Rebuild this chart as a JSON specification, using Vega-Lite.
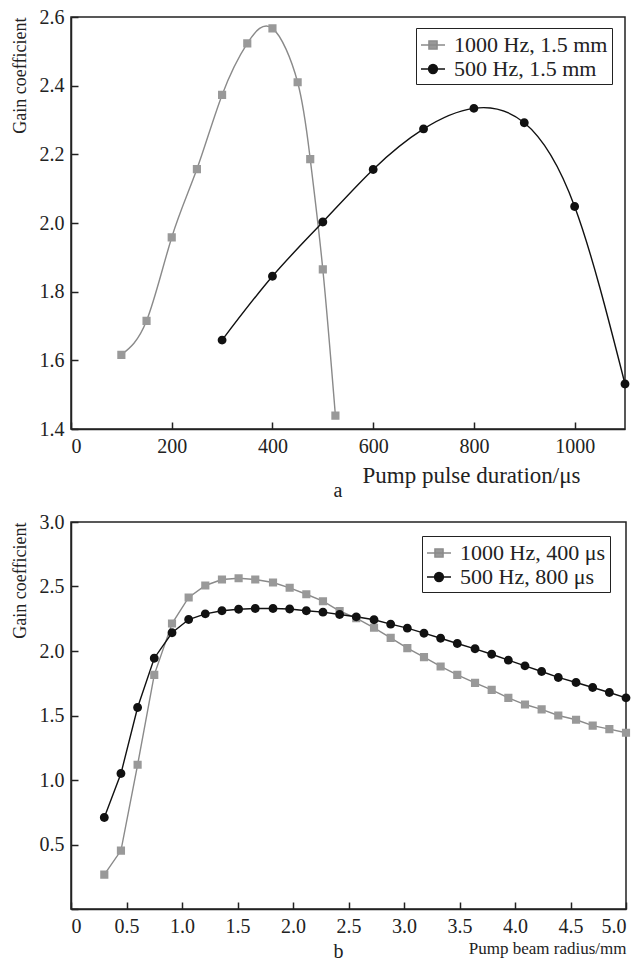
{
  "$schema": "https://vega.github.io/schema/vega-lite/v6.json",
  "background": "white",
  "padding": {"left": 10, "top": 6, "right": 0, "bottom": 0},
  "bounds": "flush",
  "spacing": 93,
  "resolve": {"scale": {"fill": "independent", "stroke": "independent", "shape": "independent"}, "legend": {"fill": "independent", "stroke": "independent", "shape": "independent"}},
  "config": {
    "font": "Liberation Serif",
    "view": {"stroke": "#222", "strokeWidth": 1.5},
    "axis": {
      "domainColor": "#222", "domainWidth": 1.5, "tickColor": "#222", "tickWidth": 1.5, "tickSize": -7,
      "labelFont": "Liberation Serif", "labelFontSize": 20, "labelColor": "#222", "labelPadding": 14,
      "titleFont": "Liberation Serif", "titleFontSize": 18, "titleFontWeight": "normal", "titleColor": "#222",
      "grid": false
    },
    "legend": {
      "labelFont": "Liberation Serif", "labelFontSize": 22, "labelColor": "#222",
      "strokeColor": "#222", "fillColor": "white", "padding": 4, "rowPadding": 0,
      "symbolSize": 576, "symbolStrokeWidth": 1.4, "labelOffset": 8
    },
    "title": {"font": "Liberation Serif", "fontSize": 20, "fontWeight": "normal", "color": "#222"}
  },
  "datasets": {
    "a": [
      {"series": "1000 Hz, 1.5 mm", "x": 100, "y": 1.616},
      {"series": "1000 Hz, 1.5 mm", "x": 150, "y": 1.715},
      {"series": "1000 Hz, 1.5 mm", "x": 200, "y": 1.958},
      {"series": "1000 Hz, 1.5 mm", "x": 250, "y": 2.157},
      {"series": "1000 Hz, 1.5 mm", "x": 300, "y": 2.373},
      {"series": "1000 Hz, 1.5 mm", "x": 350, "y": 2.523},
      {"series": "1000 Hz, 1.5 mm", "x": 400, "y": 2.567},
      {"series": "1000 Hz, 1.5 mm", "x": 450, "y": 2.41},
      {"series": "1000 Hz, 1.5 mm", "x": 475, "y": 2.186},
      {"series": "1000 Hz, 1.5 mm", "x": 500, "y": 1.865},
      {"series": "1000 Hz, 1.5 mm", "x": 525, "y": 1.439},
      {"series": "500 Hz, 1.5 mm", "x": 300, "y": 1.659},
      {"series": "500 Hz, 1.5 mm", "x": 400, "y": 1.845},
      {"series": "500 Hz, 1.5 mm", "x": 500, "y": 2.003},
      {"series": "500 Hz, 1.5 mm", "x": 600, "y": 2.156},
      {"series": "500 Hz, 1.5 mm", "x": 700, "y": 2.274},
      {"series": "500 Hz, 1.5 mm", "x": 800, "y": 2.334},
      {"series": "500 Hz, 1.5 mm", "x": 900, "y": 2.292},
      {"series": "500 Hz, 1.5 mm", "x": 1000, "y": 2.048},
      {"series": "500 Hz, 1.5 mm", "x": 1100, "y": 1.531}
    ],
    "b": [
      {"series": "1000 Hz, 400 μs", "x": 0.3, "y": 0.267},
      {"series": "1000 Hz, 400 μs", "x": 0.45, "y": 0.453},
      {"series": "1000 Hz, 400 μs", "x": 0.6, "y": 1.118},
      {"series": "1000 Hz, 400 μs", "x": 0.75, "y": 1.815},
      {"series": "1000 Hz, 400 μs", "x": 0.91, "y": 2.213},
      {"series": "1000 Hz, 400 μs", "x": 1.06, "y": 2.415},
      {"series": "1000 Hz, 400 μs", "x": 1.21, "y": 2.508},
      {"series": "1000 Hz, 400 μs", "x": 1.36, "y": 2.554},
      {"series": "1000 Hz, 400 μs", "x": 1.51, "y": 2.564},
      {"series": "1000 Hz, 400 μs", "x": 1.66, "y": 2.554},
      {"series": "1000 Hz, 400 μs", "x": 1.82, "y": 2.531},
      {"series": "1000 Hz, 400 μs", "x": 1.97, "y": 2.49},
      {"series": "1000 Hz, 400 μs", "x": 2.12, "y": 2.44},
      {"series": "1000 Hz, 400 μs", "x": 2.27, "y": 2.386},
      {"series": "1000 Hz, 400 μs", "x": 2.42, "y": 2.31},
      {"series": "1000 Hz, 400 μs", "x": 2.57, "y": 2.254},
      {"series": "1000 Hz, 400 μs", "x": 2.73, "y": 2.18},
      {"series": "1000 Hz, 400 μs", "x": 2.88, "y": 2.102},
      {"series": "1000 Hz, 400 μs", "x": 3.03, "y": 2.022},
      {"series": "1000 Hz, 400 μs", "x": 3.18, "y": 1.952},
      {"series": "1000 Hz, 400 μs", "x": 3.33, "y": 1.88},
      {"series": "1000 Hz, 400 μs", "x": 3.48, "y": 1.815},
      {"series": "1000 Hz, 400 μs", "x": 3.64, "y": 1.753},
      {"series": "1000 Hz, 400 μs", "x": 3.79, "y": 1.699},
      {"series": "1000 Hz, 400 μs", "x": 3.94, "y": 1.637},
      {"series": "1000 Hz, 400 μs", "x": 4.09, "y": 1.585},
      {"series": "1000 Hz, 400 μs", "x": 4.24, "y": 1.547},
      {"series": "1000 Hz, 400 μs", "x": 4.39, "y": 1.5},
      {"series": "1000 Hz, 400 μs", "x": 4.55, "y": 1.467},
      {"series": "1000 Hz, 400 μs", "x": 4.7, "y": 1.422},
      {"series": "1000 Hz, 400 μs", "x": 4.85, "y": 1.394},
      {"series": "1000 Hz, 400 μs", "x": 5.0, "y": 1.366},
      {"series": "500 Hz, 800 μs", "x": 0.3, "y": 0.709},
      {"series": "500 Hz, 800 μs", "x": 0.45, "y": 1.05},
      {"series": "500 Hz, 800 μs", "x": 0.6, "y": 1.562},
      {"series": "500 Hz, 800 μs", "x": 0.75, "y": 1.944},
      {"series": "500 Hz, 800 μs", "x": 0.91, "y": 2.141},
      {"series": "500 Hz, 800 μs", "x": 1.06, "y": 2.244},
      {"series": "500 Hz, 800 μs", "x": 1.21, "y": 2.288},
      {"series": "500 Hz, 800 μs", "x": 1.36, "y": 2.312},
      {"series": "500 Hz, 800 μs", "x": 1.51, "y": 2.324},
      {"series": "500 Hz, 800 μs", "x": 1.66, "y": 2.329},
      {"series": "500 Hz, 800 μs", "x": 1.82, "y": 2.329},
      {"series": "500 Hz, 800 μs", "x": 1.97, "y": 2.326},
      {"series": "500 Hz, 800 μs", "x": 2.12, "y": 2.312},
      {"series": "500 Hz, 800 μs", "x": 2.27, "y": 2.301},
      {"series": "500 Hz, 800 μs", "x": 2.42, "y": 2.283},
      {"series": "500 Hz, 800 μs", "x": 2.57, "y": 2.265},
      {"series": "500 Hz, 800 μs", "x": 2.73, "y": 2.242},
      {"series": "500 Hz, 800 μs", "x": 2.88, "y": 2.208},
      {"series": "500 Hz, 800 μs", "x": 3.03, "y": 2.177},
      {"series": "500 Hz, 800 μs", "x": 3.18, "y": 2.138},
      {"series": "500 Hz, 800 μs", "x": 3.33, "y": 2.099},
      {"series": "500 Hz, 800 μs", "x": 3.48, "y": 2.058},
      {"series": "500 Hz, 800 μs", "x": 3.64, "y": 2.017},
      {"series": "500 Hz, 800 μs", "x": 3.79, "y": 1.975},
      {"series": "500 Hz, 800 μs", "x": 3.94, "y": 1.929},
      {"series": "500 Hz, 800 μs", "x": 4.09, "y": 1.885},
      {"series": "500 Hz, 800 μs", "x": 4.24, "y": 1.841},
      {"series": "500 Hz, 800 μs", "x": 4.39, "y": 1.795},
      {"series": "500 Hz, 800 μs", "x": 4.55, "y": 1.756},
      {"series": "500 Hz, 800 μs", "x": 4.7, "y": 1.717},
      {"series": "500 Hz, 800 μs", "x": 4.85, "y": 1.678},
      {"series": "500 Hz, 800 μs", "x": 5.0, "y": 1.637}
    ]
  },
  "vconcat": [
    {
      "width": 554,
      "height": 412,
      "data": {"name": "a"},
      "title": {"text": "a", "orient": "bottom", "anchor": "middle", "offset": -6, "dx": -10},
      "encoding": {
        "x": {"field": "x", "type": "quantitative", "scale": {"domain": [0, 1100], "nice": false},
          "axis": {"values": [0, 200, 400, 600, 800, 1000], "format": "d", "title": "Pump pulse duration/μs", "titleFontSize": 23, "titleAnchor": "end", "titleAlign": "center", "titleX": 400, "titlePadding": 8}},
        "y": {"field": "y", "type": "quantitative", "scale": {"domain": [1.4, 2.6], "nice": false, "zero": false},
          "axis": {"values": [1.4, 1.6, 1.8, 2.0, 2.2, 2.4, 2.6], "format": ".1f", "title": "Gain coefficient", "titleAnchor": "end", "titlePadding": 10}}
      },
      "layer": [
        {
          "mark": {"type": "line", "interpolate": "natural", "strokeWidth": 1.4},
          "encoding": {
            "stroke": {"field": "series", "type": "nominal", "scale": {"domain": ["1000 Hz, 1.5 mm", "500 Hz, 1.5 mm"], "range": ["#8a8a8a", "#111111"]},
              "legend": {"title": null, "orient": "none", "legendX": 345, "legendY": 11, "labelFont": "Liberation Serif"}}
          }
        },
        {
          "mark": {"type": "point", "filled": true, "opacity": 1, "size": 576},
          "encoding": {
            "fill": {"field": "series", "type": "nominal", "scale": {"domain": ["1000 Hz, 1.5 mm", "500 Hz, 1.5 mm"], "range": ["#999999", "#111111"]},
              "legend": {"title": null, "orient": "none", "legendX": 345, "legendY": 11, "labelFont": "Liberation Serif"}},
            "shape": {"field": "series", "type": "nominal",
              "scale": {"domain": ["1000 Hz, 1.5 mm", "500 Hz, 1.5 mm"], "range": ["M-1,0H1M-0.34,-0.34H0.34V0.34H-0.34Z", "M-1,0H1M0.37,0A0.37,0.37 0 1,1 -0.37,0A0.37,0.37 0 1,1 0.37,0Z"]},
              "legend": {"title": null, "orient": "none", "legendX": 345, "legendY": 11, "labelFont": "Liberation Serif"}}
          }
        }
      ]
    },
    {
      "width": 555,
      "height": 387,
      "data": {"name": "b"},
      "title": {"text": "b", "orient": "bottom", "anchor": "middle", "offset": -14, "dx": -10},
      "encoding": {
        "x": {"field": "x", "type": "quantitative", "scale": {"domain": [0, 5], "nice": false},
          "axis": {"values": [0, 0.5, 1, 1.5, 2, 2.5, 3, 3.5, 4, 4.5, 5], "labelExpr": "datum.value === 0 ? '0' : format(datum.value, '.1f')", "title": "Pump beam radius/mm", "titleAnchor": "end", "titleAlign": "right", "titleFontSize": 17, "titlePadding": 4}},
        "y": {"field": "y", "type": "quantitative", "scale": {"domain": [0, 3], "nice": false},
          "axis": {"values": [0, 0.5, 1, 1.5, 2, 2.5, 3], "labelExpr": "datum.value === 0 ? '' : format(datum.value, '.1f')", "title": "Gain coefficient", "titleAnchor": "end", "titlePadding": 10}}
      },
      "layer": [
        {
          "mark": {"type": "line", "strokeWidth": 1.4},
          "encoding": {
            "stroke": {"field": "series", "type": "nominal", "scale": {"domain": ["1000 Hz, 400 μs", "500 Hz, 800 μs"], "range": ["#8a8a8a", "#111111"]},
              "legend": {"title": null, "orient": "none", "legendX": 351, "legendY": 14, "labelFont": "Liberation Serif"}}
          }
        },
        {
          "mark": {"type": "point", "filled": true, "opacity": 1, "size": 576},
          "encoding": {
            "fill": {"field": "series", "type": "nominal", "scale": {"domain": ["1000 Hz, 400 μs", "500 Hz, 800 μs"], "range": ["#999999", "#111111"]},
              "legend": {"title": null, "orient": "none", "legendX": 351, "legendY": 14, "labelFont": "Liberation Serif"}},
            "shape": {"field": "series", "type": "nominal",
              "scale": {"domain": ["1000 Hz, 400 μs", "500 Hz, 800 μs"], "range": ["M-1,0H1M-0.34,-0.34H0.34V0.34H-0.34Z", "M-1,0H1M0.37,0A0.37,0.37 0 1,1 -0.37,0A0.37,0.37 0 1,1 0.37,0Z"]},
              "legend": {"title": null, "orient": "none", "legendX": 351, "legendY": 14, "labelFont": "Liberation Serif"}}
          }
        }
      ]
    }
  ]
}
